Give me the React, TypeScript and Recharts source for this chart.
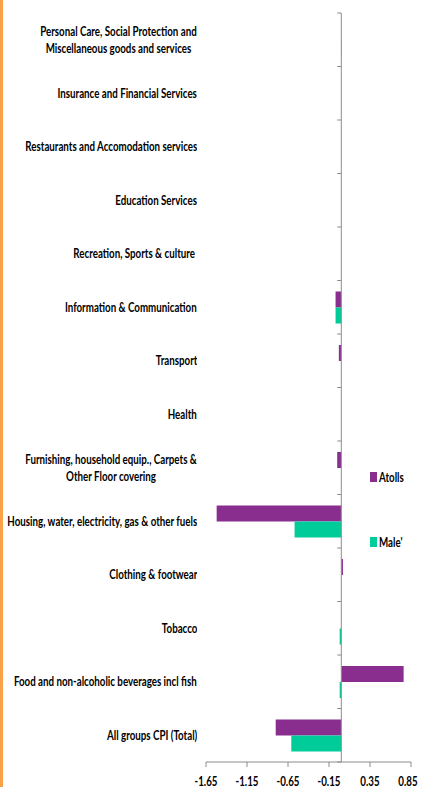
import { BarChart, Bar, XAxis, YAxis, ReferenceLine, Legend } from 'recharts';

const categories = [
  'Personal Care, Social Protection and\nMiscellaneous goods and services',
  'Insurance and Financial Services',
  'Restaurants and Accomodation services',
  'Education Services',
  'Recreation, Sports & culture ',
  'Information & Communication',
  'Transport',
  'Health',
  'Furnishing, household equip., Carpets &\nOther Floor covering',
  'Housing, water, electricity, gas & other fuels',
  'Clothing & footwear',
  'Tobacco',
  'Food and non-alcoholic beverages incl fish',
  'All groups CPI (Total)',
];

const atolls = [0, 0, 0, 0, 0, -0.07, -0.03, 0, -0.05, -1.52, 0.02, 0, 0.76, -0.8];
const male = [0.005, 0, 0, 0, 0, -0.07, 0, 0, 0, -0.57, 0, -0.02, -0.02, -0.61];

const xTicks = [-1.65, -1.15, -0.65, -0.15, 0.35, 0.85];

const ATOLLS_COLOR = '#892d8f';
const MALE_COLOR = '#00cc99';
const AXIS_COLOR = '#8c8c8c';
const FONT = 'Lato, "Open Sans", sans-serif';
const SQUEEZE = 0.75;

const data = categories.map((name, i) => ({ name, atolls: atolls[i], male: male[i] }));

const CategoryTick = ({ x, y, payload }: any) => (
  <foreignObject x={x - 300} y={y - 30} width={300} height={60}>
    <div
      style={{
        height: 60,
        display: 'flex',
        alignItems: 'center',
        justifyContent: 'flex-end',
      }}
    >
      <div
        style={{
          whiteSpace: 'pre',
          textAlign: 'center',
          font: `700 13px/17px ${FONT}`,
          color: '#000',
          transform: `scaleX(${SQUEEZE})`,
          transformOrigin: 'right center',
        }}
      >
        {payload.value}
      </div>
    </div>
  </foreignObject>
);

const ValueTick = ({ x, y, payload }: any) => (
  <g transform={`translate(${x},${y})`}>
    <text
      x={0}
      y={0}
      dy={17}
      textAnchor="middle"
      transform={`scale(${SQUEEZE},1)`}
      fontFamily={FONT}
      fontWeight={700}
      fontSize={13}
      fill="#000"
    >
      {Number(payload.value).toFixed(2)}
    </text>
  </g>
);

const LegendContent = ({ payload }: any) => (
  <div>
    {(payload || []).map((item: any) => (
      <div
        key={item.value}
        style={{ display: 'flex', alignItems: 'center', height: 14, marginBottom: 51 }}
      >
        <span
          style={{ display: 'inline-block', width: 7, height: 10, background: item.color, marginRight: 2 }}
        />
        <span
          style={{
            font: `700 13px ${FONT}`,
            color: '#000',
            whiteSpace: 'nowrap',
            transform: `scaleX(${SQUEEZE})`,
            transformOrigin: 'left center',
            display: 'inline-block',
          }}
        >
          {item.value}
        </span>
      </div>
    ))}
  </div>
);

export default function App() {
  return (
    <div
      style={{
        position: 'absolute',
        left: 0,
        top: 0,
        width: 422,
        height: 787,
        background: '#fff',
        overflow: 'hidden',
      }}
    >
      {/* orange frame edge on the left */}
      <div style={{ position: 'absolute', left: 0, top: 0, width: 3, height: 787, background: '#f9a24a' }} />
      <BarChart
        width={422}
        height={787}
        data={data}
        layout="vertical"
        margin={{ top: 13, right: 11, bottom: 0, left: 0 }}
        barSize={16}
        barGap={0}
      >
        <XAxis
          type="number"
          domain={[-1.65, 0.85]}
          ticks={xTicks}
          allowDataOverflow
          stroke={AXIS_COLOR}
          tickSize={5}
          height={25}
          tick={<ValueTick />}
        />
        <YAxis
          type="category"
          dataKey="name"
          width={206}
          axisLine={false}
          tickLine={false}
          tickSize={0}
          tickMargin={9}
          interval={0}
          tick={<CategoryTick />}
        />
        {categories.map((c) => (
          <ReferenceLine
            key={`tick-${c}`}
            segment={[{ x: -0.05, y: c }, { x: 0, y: c }]}
            position="start"
            stroke={AXIS_COLOR}
            ifOverflow="visible"
          />
        ))}
        <ReferenceLine
          segment={[
            { x: -0.05, y: categories[categories.length - 1] },
            { x: 0, y: categories[categories.length - 1] },
          ]}
          position="end"
          stroke={AXIS_COLOR}
          ifOverflow="visible"
        />
        <Legend
          layout="vertical"
          align="center"
          verticalAlign="middle"
          wrapperStyle={{ left: 370, top: 470, width: 52 }}
          content={<LegendContent />}
        />
        <Bar dataKey="atolls" name="Atolls" fill={ATOLLS_COLOR} isAnimationActive={false} />
        <Bar dataKey="male" name="Male'" fill={MALE_COLOR} isAnimationActive={false} />
        <ReferenceLine x={0} stroke={AXIS_COLOR} />
      </BarChart>
    </div>
  );
}
